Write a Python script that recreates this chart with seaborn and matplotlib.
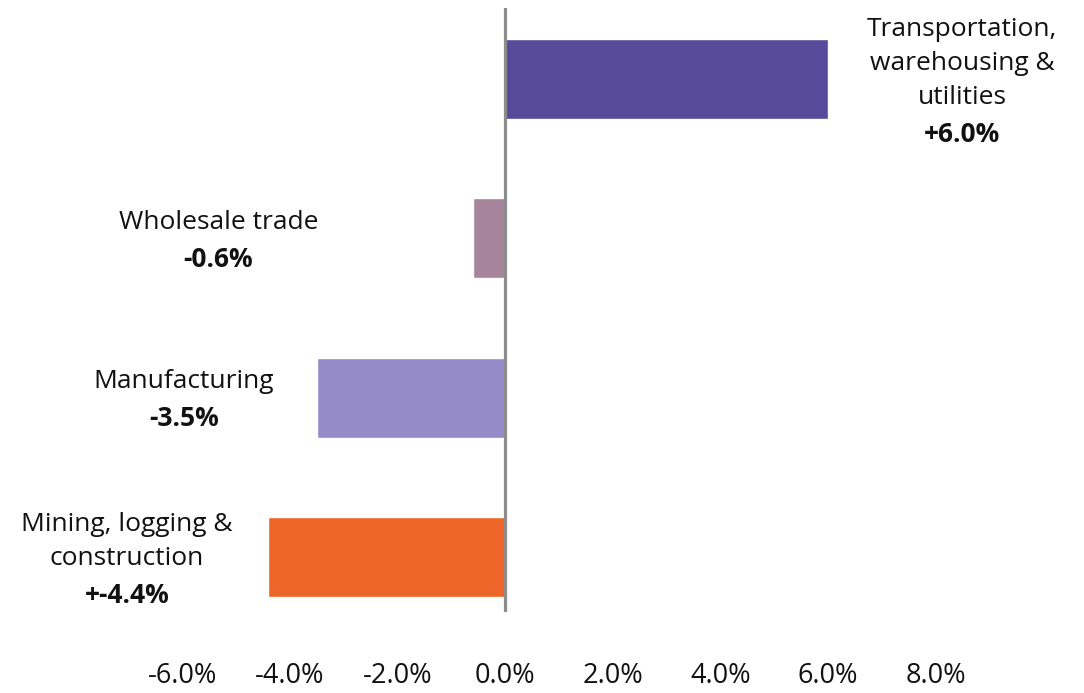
import matplotlib.pyplot as plt
import seaborn as sns
import pandas as pd

# industry employment change
industries = ["Transportation,\nwarehousing &\nutilities", "Wholesale trade",
              "Manufacturing", "Mining, logging &\nconstruction"]
changes = [6.0, -0.6, -3.5, -4.4]
value_labels = ["+6.0%", "-0.6%", "-3.5%", "+-4.4%"]
bar_colors = ["#574a9b", "#a6849c", "#968bc9", "#ee652a"]
xticks = [-6, -4, -2, 0, 2, 4, 6, 8]

# where each label block sits (x centre, in data units)
label_x = [8.49, -5.33, -5.97, -7.03]

sns.set_style("white")
plt.rcParams['font.family'] = ['Open Sans', 'DejaVu Sans']

df = pd.DataFrame({"industry": industries, "change": changes})

fig = plt.figure(figsize=(10.84, 6.93), dpi=100)
ax = fig.add_axes([0, 0.1169, 1, 0.8716])

sns.barplot(data=df, x="change", y="industry", hue="industry", palette=bar_colors,
            orient="h", width=0.5, legend=False, ax=ax, saturation=1)

ax.set_xlim(-9.39, 10.76)
ax.set_ylim(3.344, -0.444)
ax.axvline(0, color="#8c8c8c", lw=2.3, zorder=3)

name_pitch = 34 * 0.72   # px -> pt
value_gap = 37 * 0.72
for i in range(len(industries)):
    lines = industries[i].split("\n")
    offs = [k * name_pitch for k in range(len(lines))]
    offs.append(offs[-1] + value_gap)
    shift = (offs[0] + offs[-1]) / 2 - 2
    texts = lines + [value_labels[i]]
    for k in range(len(texts)):
        ax.annotate(texts[k], (label_x[i], i), xytext=(0, -(offs[k] - shift)),
                    textcoords="offset points", ha="center", va="center",
                    fontsize=19, color="#111111",
                    fontweight="bold" if k == len(texts) - 1 else "normal")

ax.set_xticks(xticks)
ax.set_xticklabels([f"{t:.1f}%" for t in xticks], fontsize=19.5, color="#111111")
ax.tick_params(axis="x", length=0, pad=36)
ax.set_yticks([])
ax.set_xlabel("")
ax.set_ylabel("")
sns.despine(ax=ax, left=True, bottom=True)

plt.savefig("out.png", dpi=100)
